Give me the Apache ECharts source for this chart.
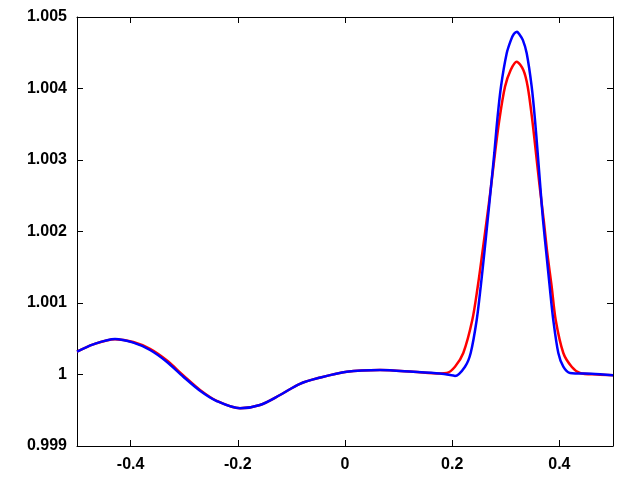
<!DOCTYPE html>
<html>
<head>
<meta charset="utf-8">
<script src="https://cdn.jsdelivr.net/npm/echarts@6/dist/echarts.min.js"></script>
<style>
  html, body { margin: 0; padding: 0; background: #fff; }
  #main { width: 640px; height: 480px; }
</style>
</head>
<body>
<div id="main"></div>
<script>
// tick labels
var xTicks = [-0.4, -0.2, 0, 0.2, 0.4]
var yTicks = [0.999, 1.000, 1.001, 1.002, 1.003, 1.004, 1.005]

// left part of the curves (nearly the same for both)
var baseX = [-0.5, -0.4696, -0.4291, -0.395, -0.3638, -0.3327, -0.3017, -0.2705, -0.2394, -0.1959, -0.1586, -0.1213, -0.084, -0.0498, 0.0032, 0.0653, 0.1274, 0.1772]
var blueBaseY = [1.000319, 1.000422, 1.000497, 1.000445, 1.000343, 1.000179, 0.999969, 0.999773, 0.999629, 0.999527, 0.999573, 0.999713, 0.99987, 0.99995, 1.000039, 1.000063, 1.000039, 1.000015]
var redBaseY = [1.000319, 1.000422, 1.000492, 1.000455, 1.000358, 1.000198, 0.999988, 0.999785, 0.999632, 0.999527, 0.999573, 0.999713, 0.99987, 0.99995, 1.000039, 1.000063, 1.000039, 1.000015]

// red curve, peak part
var redX = [0.1897, 0.2052, 0.2207, 0.2375, 0.2476, 0.2562, 0.2644, 0.2724, 0.2799, 0.2879, 0.2985, 0.3091, 0.3203, 0.3327, 0.3409, 0.3494, 0.3563, 0.3632, 0.3707, 0.3774, 0.3856, 0.3931, 0.4073, 0.4229, 0.4384, 0.47, 0.5]
var redY = [1.00002, 1.000109, 1.000301, 1.000762, 1.001228, 1.001699, 1.002161, 1.002627, 1.003098, 1.003559, 1.004025, 1.004259, 1.004375, 1.004259, 1.004025, 1.003559, 1.003098, 1.002627, 1.002161, 1.001699, 1.001228, 1.000762, 1.000301, 1.000109, 1.000021, 1.0, 0.99999]

// blue curve, peak part
var blueX = [0.1996, 0.2052, 0.2239, 0.2345, 0.2457, 0.2532, 0.2599, 0.2662, 0.2724, 0.2786, 0.2841, 0.291, 0.3017, 0.3097, 0.3153, 0.3209, 0.3246, 0.3317, 0.339, 0.3483, 0.3545, 0.3595, 0.3644, 0.3694, 0.3756, 0.3819, 0.3886, 0.398, 0.4073, 0.4198, 0.46, 0.5]
var blueY = [0.99999, 0.99998, 1.000109, 1.000301, 1.000762, 1.001228, 1.001699, 1.002161, 1.002627, 1.003098, 1.003559, 1.004025, 1.004492, 1.00468, 1.004765, 1.004794, 1.004765, 1.00468, 1.004492, 1.004025, 1.003559, 1.003098, 1.002627, 1.002161, 1.001699, 1.001228, 1.000762, 1.000301, 1.000109, 1.000021, 1.00001, 0.99999]

function zip (xs, ys) {
  var out = []
  for (var i = 0; i < xs.length; i++) out.push([xs[i], ys[i]])
  return out
}

var redData = zip(baseX, redBaseY).concat(zip(redX, redY))
var blueData = zip(baseX, blueBaseY).concat(zip(blueX, blueY))

var labelFont = { color: '#000', fontSize: 16, fontWeight: 'bold', fontFamily: 'Liberation Sans' }
var lineBlack = { show: true, onZero: false, lineStyle: { color: '#000', width: 1 } }

function fmt (v) { return String(parseFloat(v.toFixed(3))) }

function xAxisDef (pos, showLabel) {
  return {
    type: 'value', position: pos, min: -0.5, max: 0.5,
    axisLine: lineBlack,
    splitLine: { show: false },
    axisTick: { show: true, inside: true, length: 6, customValues: xTicks, lineStyle: { color: '#000' } },
    axisLabel: Object.assign({ show: showLabel, margin: 11, customValues: xTicks, formatter: fmt }, labelFont)
  }
}
function yAxisDef (pos, showLabel) {
  return {
    type: 'value', position: pos, min: 0.999, max: 1.005,
    axisLine: lineBlack,
    splitLine: { show: false },
    axisTick: { show: true, inside: true, length: 6, customValues: yTicks, lineStyle: { color: '#000' } },
    axisLabel: Object.assign({ show: showLabel, margin: 10, customValues: yTicks, formatter: fmt }, labelFont)
  }
}

var myChart = echarts.init(document.getElementById('main'))
myChart.setOption({
  animation: false,
  backgroundColor: '#fff',
  grid: { left: 77, right: 27, top: 17, bottom: 34 },
  xAxis: [xAxisDef('bottom', true), xAxisDef('top', false)],
  yAxis: [yAxisDef('left', true), yAxisDef('right', false)],
  series: [
    {
      name: 'red', type: 'line', data: redData, showSymbol: false,
      smooth: 0.3,
      lineStyle: { color: '#ff0000', width: 2.5 }
    },
    {
      name: 'blue', type: 'line', data: blueData, showSymbol: false,
      smooth: 0.3,
      lineStyle: { color: '#0000ff', width: 2.5 }
    }
  ]
})
</script>
</body>
</html>
